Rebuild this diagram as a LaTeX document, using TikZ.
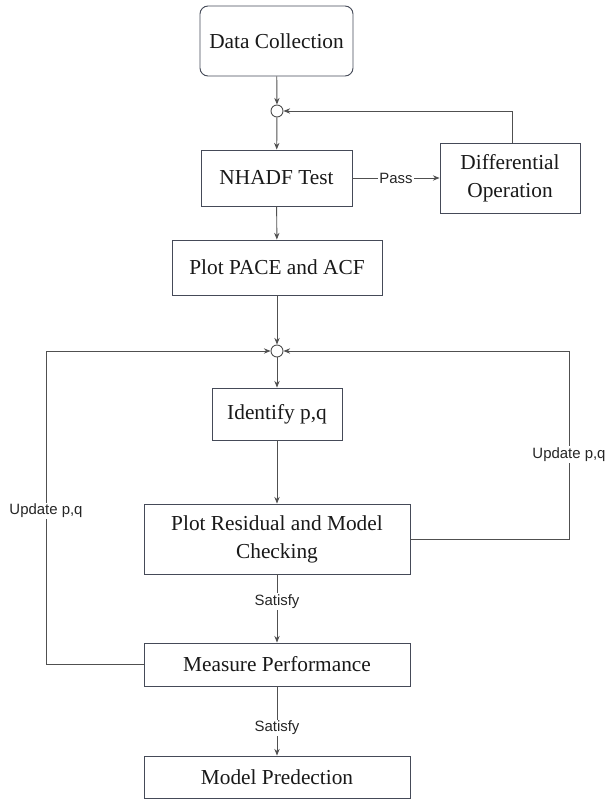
\documentclass[tikz,border=0pt]{standalone}
\usepackage{fontspec}
\setmainfont{Liberation Serif}
\setsansfont{Liberation Sans}
\usetikzlibrary{arrows.meta}
\definecolor{linegray}{HTML}{505050}
\definecolor{boxline}{HTML}{454A58}
\begin{document}
\begin{tikzpicture}[x=0.75pt,y=-0.75pt,
  stepbox/.style={draw=boxline,line width=0.7pt,inner sep=0pt,align=center,
    font=\fontsize{16}{21}\selectfont,text=black!90},
  junction/.style={draw=linegray,line width=0.7pt,circle,inner sep=0pt,minimum size=9pt,fill=white},
  conn/.style={draw=linegray,line width=0.7pt},
  arr/.style={conn,-{Stealth[length=5pt,width=4pt]}},
  lbl/.style={font=\sffamily\fontsize{11.2}{13}\selectfont,fill=white,inner sep=1pt,text=black!85}]
\useasboundingbox (0,0) rectangle (608,799);
\fill[white] (0,0) rectangle (608,799);

\node[stepbox,rounded corners=6pt,minimum width=114.75pt,minimum height=52.5pt] (data) at (276.5,41) {Data Collection};
\node[junction] (j1) at (277,111) {};
\node[stepbox,minimum width=113.25pt,minimum height=42pt] (nhadf) at (276.5,178) {NHADF Test};
\node[stepbox,minimum width=105pt,minimum height=52.5pt] (diff) at (510,178) {Differential\\Operation};
\node[stepbox,minimum width=157.5pt,minimum height=41.25pt] (pace) at (277,267.5) {Plot PACE and ACF};
\node[junction] (j2) at (277,351) {};
\node[stepbox,minimum width=97.5pt,minimum height=39pt] (ident) at (277,414) {Identify p,q};
\node[stepbox,minimum width=199.5pt,minimum height=52.5pt] (resid) at (277,539) {Plot Residual and Model\\Checking};
\node[stepbox,minimum width=199.5pt,minimum height=32.25pt] (meas) at (277,664.5) {Measure Performance};
\node[stepbox,minimum width=199.5pt,minimum height=31.5pt] (pred) at (277,777) {Model Predection};

\coordinate (dtop) at (512,143);
\coordinate (rr) at (569,539);
\coordinate (ll) at (46,664.5);

\draw[arr] (data) -- (j1);
\draw[arr] (j1) -- (nhadf);
\draw[arr] (nhadf) -- node[lbl]{Pass} (diff);
\draw[arr] (dtop) |- (j1);
\draw[arr] (nhadf) -- (pace);
\draw[arr] (pace) -- (j2);
\draw[arr] (j2) -- (ident);
\draw[arr] (ident) -- (resid);
\draw[arr] (resid.east) -- (rr) -- node[lbl,pos=0.45]{Update p,q} (rr |- j2) -- (j2);
\draw[arr] (resid) -- node[lbl,pos=0.4]{Satisfy} (meas);
\draw[arr] (meas.west) -- (ll) -- node[lbl,pos=0.49]{Update p,q} (ll |- j2) -- (j2);
\draw[arr] (meas) -- node[lbl,pos=0.6]{Satisfy} (pred);
\end{tikzpicture}
\end{document}
